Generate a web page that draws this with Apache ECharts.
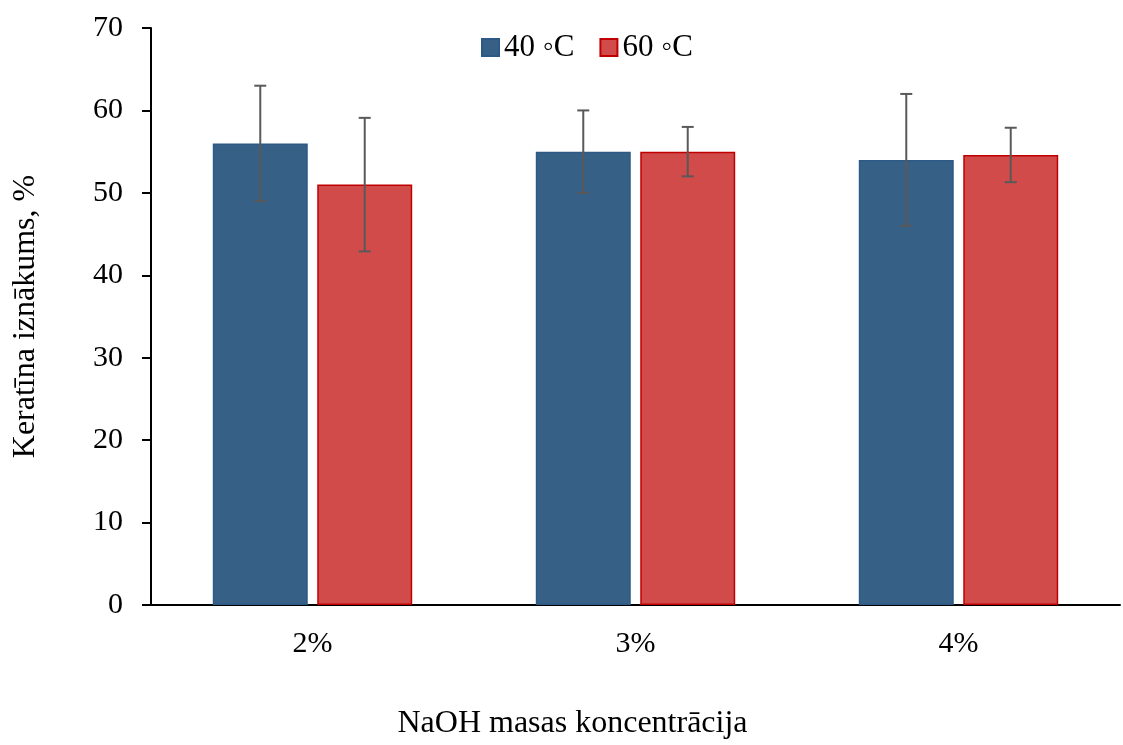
<!DOCTYPE html>
<html>
<head>
<meta charset="utf-8">
<script src="https://cdn.jsdelivr.net/npm/echarts@6/dist/echarts.min.js"></script>
<style>html,body{margin:0;padding:0;background:#fff;overflow:hidden}#c{width:1123px;height:745px}</style>
</head>
<body>
<div id="c"></div>
<script>
var categories = ['2%', '3%', '4%'];
var seriesNames = ['40 \u25E6C', '60 \u25E6C'];
var values40 = [56, 55, 54];
var values60 = [51, 55, 54.6];
var err40 = [7, 5, 8];
var err60 = [8.1, 3, 3.3];
var yTicks = [0, 10, 20, 30, 40, 50, 60, 70];

var BAR_W = 0.294, BAR_GAP = 0.1;
var font = '"Liberation Serif", "Times New Roman", serif';

function errSeries(vals, errs, side) {
  var data = vals.map(function (v, i) { return [i, v - errs[i], v + errs[i]]; });
  return {
    type: 'custom',
    silent: true,
    z: 10,
    renderItem: function (params, api) {
      var i = api.value(0);
      var bw = api.size([1, 0])[0];
      var off = side * bw * BAR_W * (1 + BAR_GAP) / 2;
      var lo = api.coord([i, api.value(1)]);
      var hi = api.coord([i, api.value(2)]);
      var x = lo[0] + off;
      var cap = 6;
      var st = { stroke: '#595959', lineWidth: 2 };
      return {
        type: 'group',
        children: [
          { type: 'line', shape: { x1: x, y1: lo[1], x2: x, y2: hi[1] }, style: st },
          { type: 'line', shape: { x1: x - cap, y1: lo[1], x2: x + cap, y2: lo[1] }, style: st },
          { type: 'line', shape: { x1: x - cap, y1: hi[1], x2: x + cap, y2: hi[1] }, style: st }
        ]
      };
    },
    data: data
  };
}

var chart = echarts.init(document.getElementById('c'));
chart.setOption({
  animation: false,
  backgroundColor: '#fff',
  textStyle: { fontFamily: font },
  grid: { left: 151, right: 3, top: 28, height: 588, containLabel: false },
  legend: {
    top: 27, left: 476,
    icon: 'rect',
    itemWidth: 17, itemHeight: 17, itemGap: 25,
    textStyle: { fontFamily: font, fontSize: 31, color: '#000' },
    data: seriesNames
  },
  xAxis: {
    type: 'category',
    data: categories,
    name: 'NaOH masas koncentrācija',
    nameLocation: 'middle',
    nameGap: 103,
    nameTextStyle: { fontFamily: font, fontSize: 32, color: '#000', padding: [0, 126, 0, 0] },
    axisLine: { lineStyle: { color: '#000', width: 2 } },
    axisTick: { show: false },
    axisLabel: { fontFamily: font, fontSize: 30, color: '#000', margin: 24 }
  },
  yAxis: {
    type: 'value',
    min: 0, max: 70, interval: 10,
    name: 'Keratīna iznākums, %',
    nameLocation: 'middle',
    nameGap: 109,
    nameTextStyle: { fontFamily: font, fontSize: 32, color: '#000' },
    axisLine: { show: true, lineStyle: { color: '#000', width: 2 } },
    axisTick: { show: true, inside: false, length: 9, lineStyle: { color: '#000', width: 2 } },
    axisLabel: { fontFamily: font, fontSize: 30, color: '#000', margin: 28,
      formatter: function (v) { return yTicks.indexOf(v) >= 0 ? String(v) : ''; } },
    splitLine: { show: false }
  },
  series: [
    {
      name: seriesNames[0], type: 'bar', data: values40,
      barWidth: (BAR_W * 100) + '%', barGap: (BAR_GAP * 100) + '%',
      itemStyle: { color: '#376087', borderColor: '#2c5a85', borderWidth: 1.5 }
    },
    {
      name: seriesNames[1], type: 'bar', data: values60,
      barWidth: (BAR_W * 100) + '%', barGap: (BAR_GAP * 100) + '%',
      itemStyle: { color: '#d14b4b', borderColor: '#c00000', borderWidth: 1.5 }
    },
    errSeries(values40, err40, -1),
    errSeries(values60, err60, 1)
  ]
});
</script>
</body>
</html>
